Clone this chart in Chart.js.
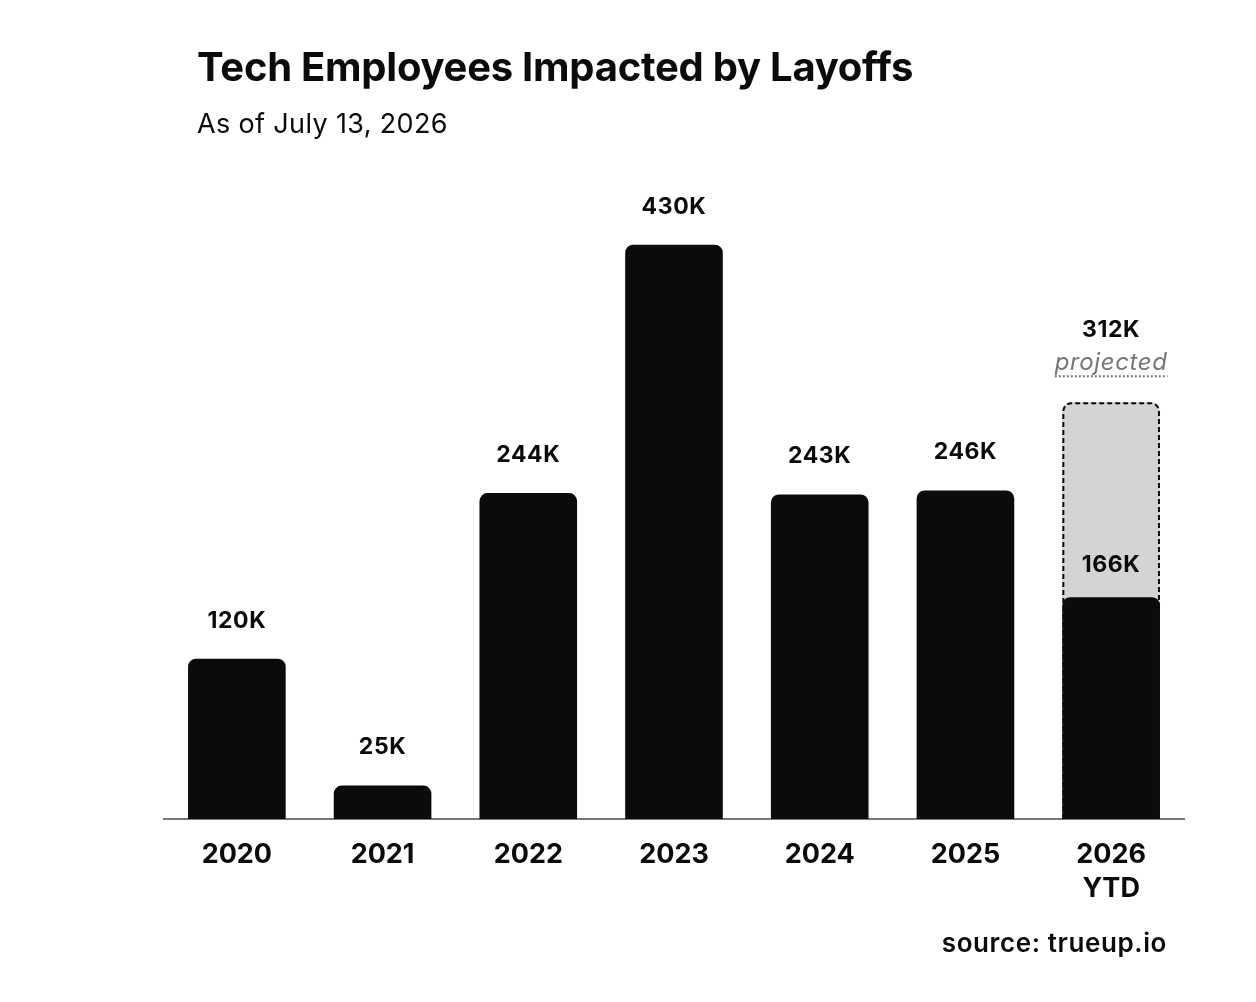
<!DOCTYPE html>
<html>
<head>
<meta charset="utf-8">
<script src="https://cdn.jsdelivr.net/npm/chart.js@4"></script>
<style>
  html, body { margin: 0; padding: 0; background: #fff; }
  #wrap { position: relative; width: 1256px; height: 1002px; font-family: Inter, sans-serif; color: #0b0b0b; }
  #wrap canvas { position: absolute; left: 0; top: 0; }
  .title { position: absolute; left: 197px; top: 47px; font-size: 40px; line-height: 40px; font-weight: 700; letter-spacing: -0.25px; white-space: nowrap; }
  .subtitle { position: absolute; left: 197px; top: 110px; font-size: 27px; line-height: 27px; font-weight: 400; letter-spacing: 0.35px; white-space: nowrap; }
  .source { position: absolute; right: 89px; top: 930px; font-size: 26px; line-height: 26px; font-weight: 600; letter-spacing: 0.6px; white-space: nowrap; }
</style>
</head>
<body>
<div id="wrap">
  <canvas id="layoffsChart"></canvas>
  <div class="title">Tech Employees Impacted by Layoffs</div>
  <div class="subtitle">As of July 13, 2026</div>
  <div class="source">source: trueup.io</div>
</div>
<script>
// Data (thousands of employees)
const years = ['2020', '2021', '2022', '2023', '2024', '2025', ['2026', 'YTD']];
const impacted = [120, 25, 244, 430, 243, 246, 166];
const projected = [null, null, null, null, null, null, 312];
const projectedNote = 'projected';

const fmtK = v => v + 'K';

// Dashed outline round the projected bar, drawn before the actual bars cover its base
const projectedOutline = {
    id: 'projectedOutline',
    afterDatasetDraw(chart, args) {
        if (args.index !== 1) return;
        const ctx = chart.ctx;
        const r = 8;
        args.meta.data.forEach((bar, i) => {
            if (projected[i] == null) return;
            const left = bar.x - bar.width / 2 + 1;
            const right = bar.x + bar.width / 2 - 1;
            const top = bar.y + 1;
            const base = bar.base;
            ctx.save();
            ctx.setLineDash([5, 3]);
            ctx.lineWidth = 2;
            ctx.strokeStyle = '#0b0b0b';
            ctx.beginPath();
            ctx.moveTo(left, base);
            ctx.lineTo(left, top + r);
            ctx.arcTo(left, top, left + r, top, r);
            ctx.lineTo(right - r, top);
            ctx.arcTo(right, top, right, top + r, r);
            ctx.lineTo(right, base);
            ctx.stroke();
            ctx.restore();
        });
    }
};

// Value labels above each bar
const barLabels = {
    id: 'barLabels',
    afterDatasetsDraw(chart) {
        const ctx = chart.ctx;
        const actual = chart.getDatasetMeta(0).data;
        const proj = chart.getDatasetMeta(1).data;
        ctx.save();
        ctx.textAlign = 'center';
        ctx.textBaseline = 'middle';
        ctx.letterSpacing = '0.6px';

        actual.forEach((bar, i) => {
            const gap = projected[i] == null ? 38 : 32;
            ctx.font = '700 23px Inter';
            ctx.fillStyle = '#0b0b0b';
            ctx.fillText(fmtK(impacted[i]), bar.x, bar.y - gap);
        });

        proj.forEach((bar, i) => {
            if (projected[i] == null) return;
            ctx.font = '700 23px Inter';
            ctx.fillStyle = '#0b0b0b';
            ctx.fillText(fmtK(projected[i]), bar.x, bar.y - 72);

            ctx.font = 'italic 400 24px Inter';
            ctx.fillStyle = '#777777';
            ctx.fillText(projectedNote, bar.x, bar.y - 40);
            const w = ctx.measureText(projectedNote).width;
            ctx.setLineDash([2, 2]);
            ctx.strokeStyle = '#777777';
            ctx.lineWidth = 2;
            ctx.beginPath();
            ctx.moveTo(bar.x - w / 2, bar.y - 26);
            ctx.lineTo(bar.x + w / 2, bar.y - 26);
            ctx.stroke();
        });
        ctx.restore();
    }
};

new Chart(document.getElementById('layoffsChart'), {
    type: 'bar',
    data: {
        labels: years,
        datasets: [
            {
                label: 'Impacted',
                data: impacted,
                backgroundColor: '#0b0b0b',
                borderRadius: 8,
                grouped: false,
                barPercentage: 0.67,
                categoryPercentage: 1
            },
            {
                label: 'Projected',
                data: projected,
                backgroundColor: '#d4d4d4',
                borderRadius: 8,
                grouped: false,
                barPercentage: 0.67,
                categoryPercentage: 1
            }
        ]
    },
    options: {
        responsive: true,
        maintainAspectRatio: false,
        animation: false,
        layout: {
            padding: { left: 164, right: 72, top: 218, bottom: 77 }
        },
        plugins: {
            legend: { display: false },
            tooltip: { enabled: false }
        },
        scales: {
            x: {
                grid: { display: false, drawTicks: false },
                border: { color: '#777777', width: 2 },
                ticks: {
                    padding: 19,
                    color: '#0b0b0b',
                    font: { family: 'Inter', size: 27, weight: '700', lineHeight: 1.26 }
                }
            },
            y: {
                display: false,
                min: 0,
                max: 450
            }
        }
    },
    plugins: [projectedOutline, barLabels]
});
</script>
</body>
</html>
